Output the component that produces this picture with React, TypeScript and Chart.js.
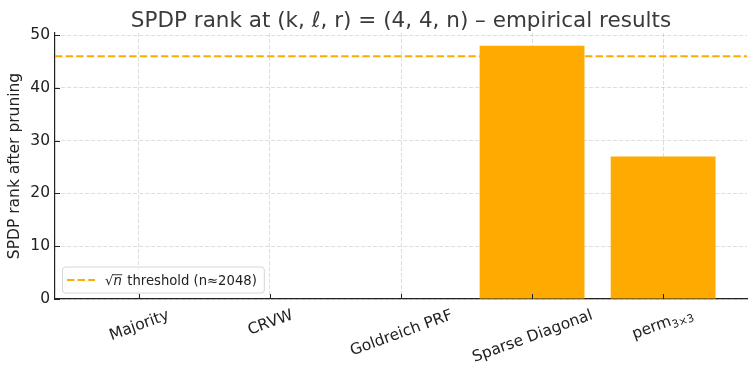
import React, { useEffect, useRef } from "react";
import { Chart, registerables } from "chart.js";

Chart.register(...registerables);

const categories = ["Majority", "CRVW", "Goldreich PRF", "Sparse Diagonal", "perm"];
const categorySubscripts = ["", "", "", "", "3×3"];
const rankValues = [0, 0, 0, 48, 27];
const thresholdValue = 46;
const yTicks = [0, 10, 20, 30, 40, 50];
const yMax = 50.4;
const titleText = "SPDP rank at (k, ℓ, r) = (4, 4, n) – empirical results";
const yAxisLabel = "SPDP rank after pruning";
const legendText = "threshold (n≈2048)";

const FONT = "'DejaVu Sans', sans-serif";
const ORANGE = "#FFAA00";
const TEXT = "#222222";
const X_MARGIN = 0.64;
const TICK_SIZE = 15.5;

const overlay = {
  id: "overlay",
  afterDraw(chart: any) {
    const { ctx, chartArea: ca, scales } = chart;
    const xs = scales.x;
    const ys = scales.y;
    ctx.save();

    // Title
    ctx.fillStyle = "#3a3a3a";
    ctx.font = `21.5px ${FONT}`;
    ctx.textAlign = "center";
    ctx.textBaseline = "alphabetic";
    ctx.fillText(titleText, (ca.left + ca.right) / 2, 26.5);

    // inward ticks
    ctx.strokeStyle = TEXT;
    ctx.lineWidth = 1;
    ctx.beginPath();
    categories.forEach((_, i) => {
      const px = Math.round(xs.getPixelForValue(i)) + 0.5;
      ctx.moveTo(px, ca.bottom);
      ctx.lineTo(px, ca.bottom - 5);
    });
    yTicks.forEach((v) => {
      const py = Math.round(ys.getPixelForValue(v)) + 0.5;
      ctx.moveTo(ca.left, py);
      ctx.lineTo(ca.left + 5, py);
    });
    ctx.stroke();

    // rotated x tick labels, centred on ticks
    const f = TICK_SIZE;
    const a = (20 * Math.PI) / 180;
    categories.forEach((label, i) => {
      const sub = categorySubscripts[i];
      ctx.font = `${f}px ${FONT}`;
      const wMain = ctx.measureText(label).width;
      ctx.font = `${f * 0.7}px ${FONT}`;
      const wSub = sub ? ctx.measureText(sub).width : 0;
      const W = wMain + wSub;
      const h = sub ? 20 : 17;
      const H = W * Math.sin(a) + h * Math.cos(a);
      const cx = xs.getPixelForValue(i);
      const cy = ca.bottom + 6.5 + H / 2;
      ctx.save();
      ctx.translate(cx, cy);
      ctx.rotate(-a);
      ctx.fillStyle = TEXT;
      ctx.textAlign = "left";
      ctx.textBaseline = "alphabetic";
      ctx.font = `${f}px ${FONT}`;
      const base = sub ? 2.5 : f * 0.36;
      ctx.fillText(label, -W / 2, base);
      if (sub) {
        ctx.font = `${f * 0.7}px ${FONT}`;
        ctx.fillText(sub, -W / 2 + wMain, base + 3.5);
      }
      ctx.restore();
    });

    // Legend
    const lf = 13.2;
    const bx = ca.left + 7;
    const bBottom = ca.bottom - 6.5;
    const bh = 26;
    const by = bBottom - bh;
    ctx.font = `${lf}px ${FONT}`;
    const radW = ctx.measureText("√").width;
    ctx.font = `italic ${lf}px ${FONT}`;
    const nW = ctx.measureText("n").width;
    ctx.font = `${lf}px ${FONT}`;
    const restW = ctx.measureText(legendText).width;
    const gap = 5.5;
    const handleX = bx + 5;
    const handleLen = 28;
    const textX = handleX + handleLen + 10;
    const bw = textX + radW + nW + gap + restW + 7 - bx;
    ctx.beginPath();
    ctx.roundRect(bx + 0.5, by + 0.5, bw, bh, 3);
    ctx.fillStyle = "rgba(255,255,255,0.8)";
    ctx.fill();
    ctx.strokeStyle = "#d6d6d6";
    ctx.lineWidth = 1;
    ctx.stroke();
    const midY = by + bh / 2 + 0.5;
    ctx.beginPath();
    ctx.setLineDash([7.4, 3.2]);
    ctx.strokeStyle = ORANGE;
    ctx.lineWidth = 2;
    ctx.moveTo(handleX, midY);
    ctx.lineTo(handleX + handleLen, midY);
    ctx.stroke();
    ctx.setLineDash([]);
    const baseY = midY + 4.5;
    ctx.fillStyle = TEXT;
    ctx.textAlign = "left";
    ctx.textBaseline = "alphabetic";
    ctx.font = `${lf}px ${FONT}`;
    ctx.fillText("√", textX, baseY);
    ctx.font = `italic ${lf}px ${FONT}`;
    ctx.fillText("n", textX + radW, baseY);
    ctx.beginPath();
    ctx.strokeStyle = TEXT;
    ctx.lineWidth = 0.9;
    const barY = baseY - lf * 0.74;
    ctx.moveTo(textX + radW - 1, barY);
    ctx.lineTo(textX + radW + nW + 0.5, barY);
    ctx.stroke();
    ctx.font = `${lf}px ${FONT}`;
    ctx.fillText(legendText, textX + radW + nW + gap, baseY);

    ctx.restore();
  },
};

export default function App() {
  const canvasRef = useRef<HTMLCanvasElement | null>(null);

  useEffect(() => {
    if (!canvasRef.current) return;
    const gridColor = "rgba(150,150,150,0.32)";
    const chart = new Chart(canvasRef.current, {
      type: "bar",
      data: {
        datasets: [
          {
            type: "bar",
            label: "SPDP rank",
            data: categories.map((_, i) => ({ x: i, y: rankValues[i] })),
            backgroundColor: ORANGE,
            borderWidth: 0,
            barPercentage: 1,
            categoryPercentage: 0.8,
            order: 1,
          } as any,
          {
            type: "line",
            label: "√n threshold (n≈2048)",
            data: [
              { x: -X_MARGIN, y: thresholdValue },
              { x: categories.length - 1 + X_MARGIN, y: thresholdValue },
            ],
            borderColor: ORANGE,
            borderWidth: 2,
            borderDash: [7.4, 3.2],
            pointRadius: 0,
            fill: false,
            order: 2,
          } as any,
        ],
      },
      options: {
        animation: false,
        responsive: true,
        maintainAspectRatio: false,
        events: [],
        layout: { padding: { top: 33, right: 6, left: 0, bottom: 0 } },
        plugins: {
          legend: { display: false },
          tooltip: { enabled: false },
          title: { display: false },
        },
        scales: {
          x: {
            type: "linear",
            min: -X_MARGIN,
            max: categories.length - 1 + X_MARGIN,
            offset: false,
            z: 1,
            afterBuildTicks: (s: any) => {
              s.ticks = categories.map((_, i) => ({ value: i }));
            },
            afterFit: (s: any) => {
              s.height = 72;
            },
            ticks: { display: false },
            grid: { color: gridColor, lineWidth: 1, drawTicks: false, offset: false },
            border: { display: true, color: TEXT, width: 1.2, dash: [4, 2] },
          },
          y: {
            type: "linear",
            min: 0,
            max: yMax,
            z: 1,
            afterBuildTicks: (s: any) => {
              s.ticks = yTicks.map((v) => ({ value: v }));
            },
            afterFit: (s: any) => {
              s.width = 55;
            },
            ticks: {
              color: TEXT,
              padding: 5,
              font: { family: "'DejaVu Sans', sans-serif", size: TICK_SIZE },
            },
            grid: { color: gridColor, lineWidth: 1, drawTicks: false },
            border: { display: true, color: TEXT, width: 1.2, dash: [4, 2] },
            title: {
              display: true,
              text: yAxisLabel,
              color: TEXT,
              padding: { top: 6, bottom: 0 },
              font: { family: "'DejaVu Sans', sans-serif", size: TICK_SIZE },
            },
          },
        },
      },
      plugins: [overlay],
    });
    return () => chart.destroy();
  }, []);

  return (
    <div style={{ position: "absolute", left: 0, top: 0, width: 753, height: 371, background: "#fff" }}>
      <canvas ref={canvasRef} />
    </div>
  );
}
